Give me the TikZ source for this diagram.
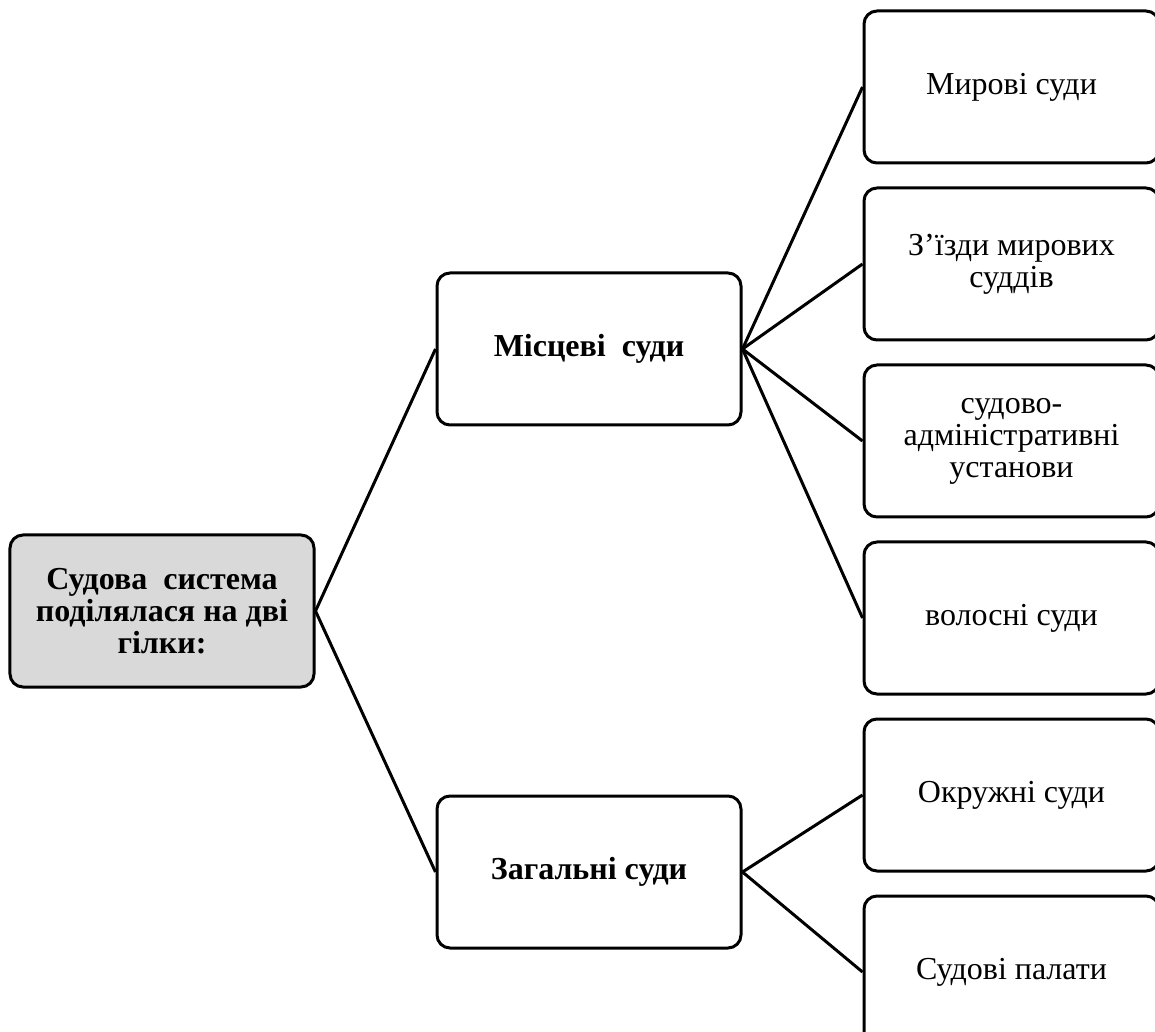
\documentclass[tikz,border=0pt]{standalone}
\usepackage{fontspec}
\setmainfont{Liberation Serif}
\usepackage{tikz}
\usetikzlibrary{positioning}
\usepackage{xcolor}
\definecolor{rootgray}{RGB}{217,217,217}

\begin{document}
\begin{tikzpicture}[
    node distance=11pt and 60pt,
    box/.style={rectangle,draw,line width=1.5pt,rounded corners=6.5pt,
                minimum width=152pt,minimum height=76pt,align=center,
                font=\fontsize{16}{16}\selectfont\bfseries},
    rootbox/.style={box,fill=rootgray},
    leaf/.style={box,minimum width=147.5pt,font=\fontsize{16}{16}\selectfont},
    link/.style={line width=1.5pt}
  ]
    \useasboundingbox (-81pt,-210.5pt) rectangle (496.5pt,305.5pt);
    \node[rootbox] (sys) at (0,0) {Судова\ \ система\\поділялася на дві\\гілки:};
    \node[box,right=of sys,yshift=131pt] (local) {Місцеві\ \ суди};
    \node[box,right=of sys,yshift=-130.5pt] (general) {Загальні суди};
    % leaves of the upper branch
    \node[leaf,right=of local,yshift=131pt] (mir) {Мирові суди};
    \node[leaf,below=of mir] (zizd) {З’їзди мирових\\суддів};
    \node[leaf,below=of zizd] (sudadm) {судово-\\адміністративні\\установи};
    \node[leaf,below=of sudadm] (volost) {волосні суди};
    % leaves of the lower branch
    \node[leaf,below=of volost] (okrug) {Окружні суди};
    \node[leaf,below=of okrug] (palaty) {Судові палати};
    \draw[link] (sys.east) -- (local.west);
    \draw[link] (sys.east) -- (general.west);
    \foreach \leafname in {mir,zizd,sudadm,volost}
      \draw[link] (local.east) -- (\leafname.west);
    \foreach \leafname in {okrug,palaty}
      \draw[link] (general.east) -- (\leafname.west);
  \end{tikzpicture}
\end{document}
